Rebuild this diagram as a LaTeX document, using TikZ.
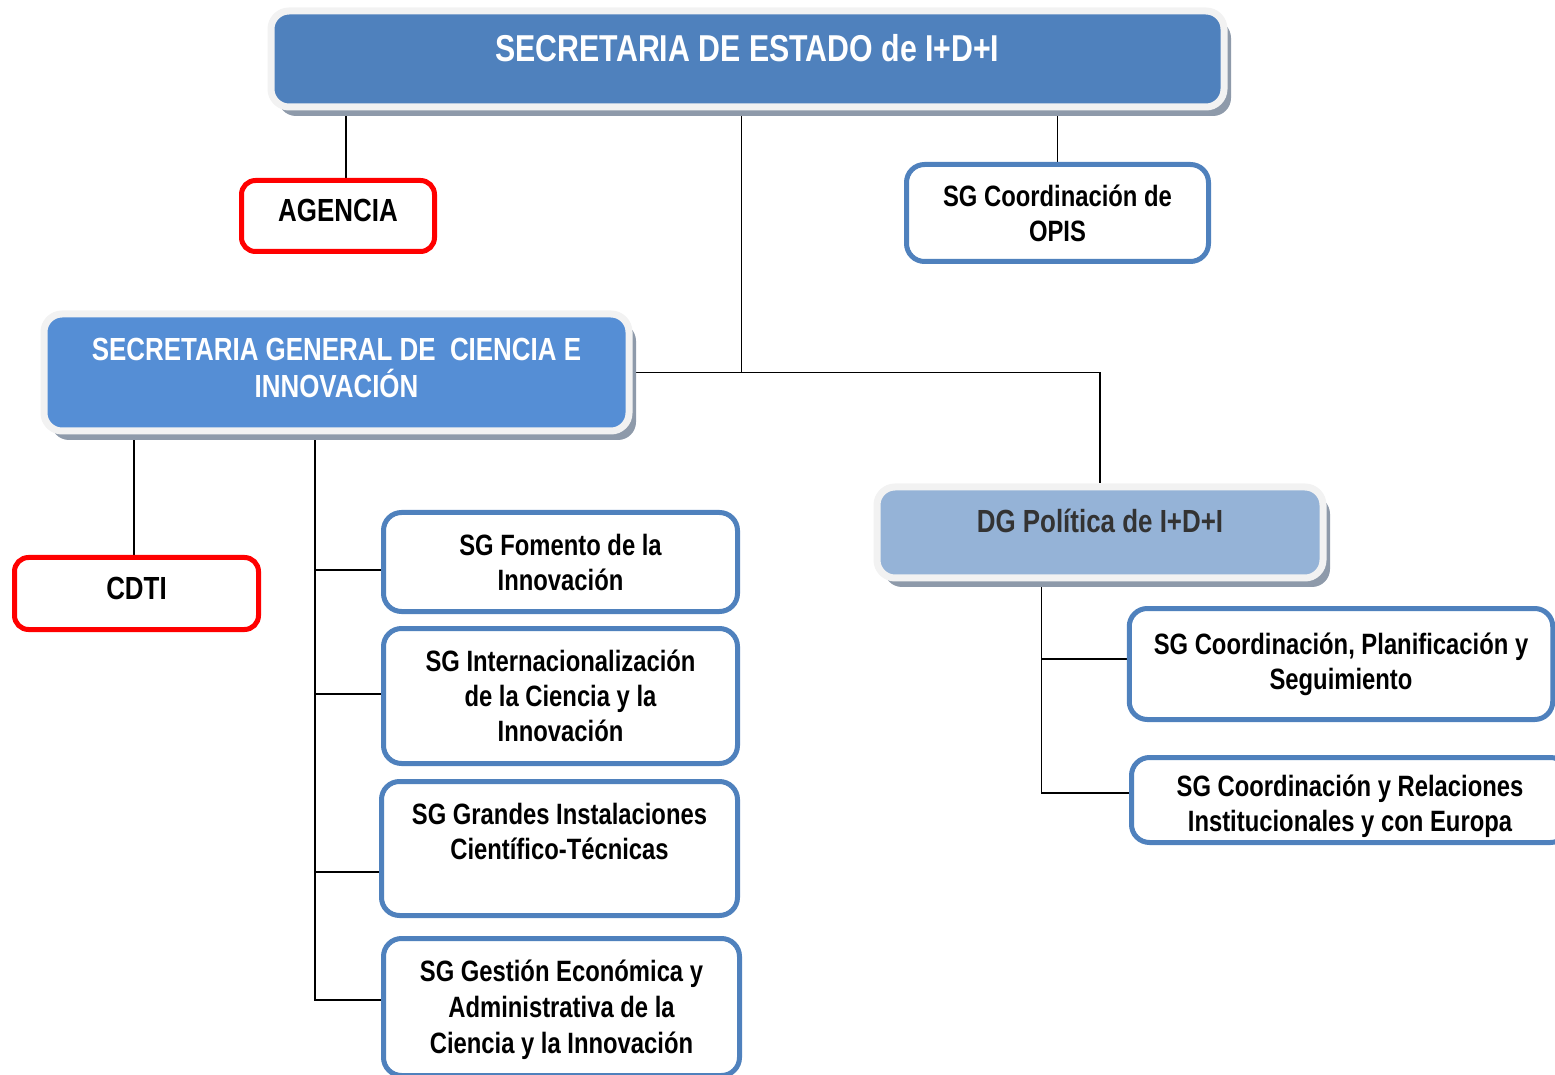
\documentclass[tikz,border=0pt]{standalone}
\usepackage{fontspec}
\setmainfont{Liberation Sans}[FakeStretch=0.81]
\usepackage{tikz}
\usetikzlibrary{calc,shadows,backgrounds}
\definecolor{estblue}{HTML}{4F81BD}
\definecolor{genblue}{HTML}{558ED5}
\definecolor{dgblue}{HTML}{95B3D7}
\definecolor{rimgray}{HTML}{F2F2F2}
\definecolor{shadowgray}{HTML}{8E9AAA}
\definecolor{boxline}{HTML}{4F81BD}
\definecolor{alert}{HTML}{FF0000}
\definecolor{dgtext}{HTML}{333333}
\tikzset{
  head/.style={draw=rimgray, line width=3.5pt, rounded corners=9pt, inner sep=0pt, align=center,
    drop shadow={shadow xshift=3.5pt, shadow yshift=-4.5pt, fill=shadowgray, opacity=1}},
  unit/.style={draw=boxline, line width=2.5pt, rounded corners=9pt, fill=white, inner sep=0pt,
    align=center, font=\bfseries\fontsize{14.7}{17.5}\selectfont},
  agency/.style={draw=alert, line width=2.5pt, rounded corners=7pt, fill=white, inner sep=0pt,
    font=\bfseries\fontsize{16}{19}\selectfont},
  link/.style={draw=black, line width=0.75pt},
}

\begin{document}
\begin{tikzpicture}[x=0.5pt,y=-0.5pt]
  \useasboundingbox (0,0) rectangle (1555,1075);
  \node[head, fill=estblue, text=white, minimum width=476.5pt, text height=25.5pt, text depth=22.5pt,
    font=\bfseries\fontsize{18.7}{22}\selectfont] (sec) at (747.5,59) {SECRETARIA DE ESTADO de I+D+I};
  \node[head, fill=genblue, text=white, minimum width=292.5pt, text height=42pt, text depth=16.5pt,
    font=\bfseries\fontsize{16}{18.5}\selectfont] (sgci) at (336.5,372.5) {SECRETARIA GENERAL DE~~CIENCIA E\\INNOVACIÓN};
  \node[head, fill=dgblue, text=dgtext, minimum width=223pt, text height=22.5pt, text depth=23pt,
    font=\bfseries\fontsize{16}{19}\selectfont] (dg) at (1100,532.5) {DG Política de I+D+I};
  \node[agency, minimum width=96.5pt, text height=20.75pt, text depth=14.75pt] (agencia) at (338,216) {AGENCIA};
  \node[agency, minimum width=122pt, text height=21.25pt, text depth=14.75pt] (cdti) at (136.5,593.5) {CDTI};
  \node[unit, minimum width=151pt, minimum height=48.5pt] (opis) at (1057.5,213) {SG Coordinación de\\OPIS};
  \node[unit, minimum width=177pt, minimum height=49.5pt] (fomento) at (560.5,562) {SG Fomento de la\\Innovación};
  \node[unit, minimum width=177pt, minimum height=67.5pt] (internac) at (560.5,696) {SG Internacionalización\\de la Ciencia y la\\Innovación};
  \node[unit, minimum width=178pt, text height=38.75pt, text depth=28.25pt] (grandes) at (559.5,848.5) {SG Grandes Instalaciones\\Científico-Técnicas};
  \node[unit, minimum width=178pt, text height=57.25pt, text depth=11.25pt,
    font=\bfseries\fontsize{14.7}{18}\selectfont] (gestion) at (561.5,1007) {SG Gestión Económica y\\Administrativa de la\\Ciencia y la Innovación};
  \node[unit, minimum width=211.75pt, minimum height=55.5pt] (planif) at (1341,664) {SG Coordinación, Planificación y\\Seguimiento};
  \node[unit, minimum width=218.5pt, text height=37pt, text depth=5.5pt] (relac) at (1350,800) {SG Coordinación y Relaciones\\Institucionales y con Europa};
  \begin{scope}[on background layer]
    \draw[link] (agencia.north) ++(8,0) coordinate (a1) -- (a1 |- sec.south);
    \draw[link] (sec.south) ++(-6,0) coordinate (s1) -- (s1 |- sgci.east);
    \draw[link] (sgci.east) -| (dg.north);
    \draw[link] (opis.north) -- (opis.north |- sec.south);
    \draw[link] (cdti.north) ++(-2.5,0) coordinate (c1) -- (c1 |- sgci.south);
    \coordinate (sp) at ($(sgci.south west)+(274.5,0)$);
    \draw[link] (sp) |- ($(gestion.west)+(0,-7)$);
    \foreach \unitname/\dy in {fomento/8, internac/-2, grandes/23.5}
      \draw[link] ($(\unitname.west)+(0,\dy)$) coordinate (b) -- (b -| sp);
    \coordinate (dp) at ($(dg.south west)+(168,0)$);
    \draw[link] (dp) |- ($(relac.west)+(0,-7)$);
    \draw[link] ($(planif.west)+(0,-5)$) coordinate (p1) -- (p1 -| dp);
  \end{scope}
\end{tikzpicture}
\end{document}
